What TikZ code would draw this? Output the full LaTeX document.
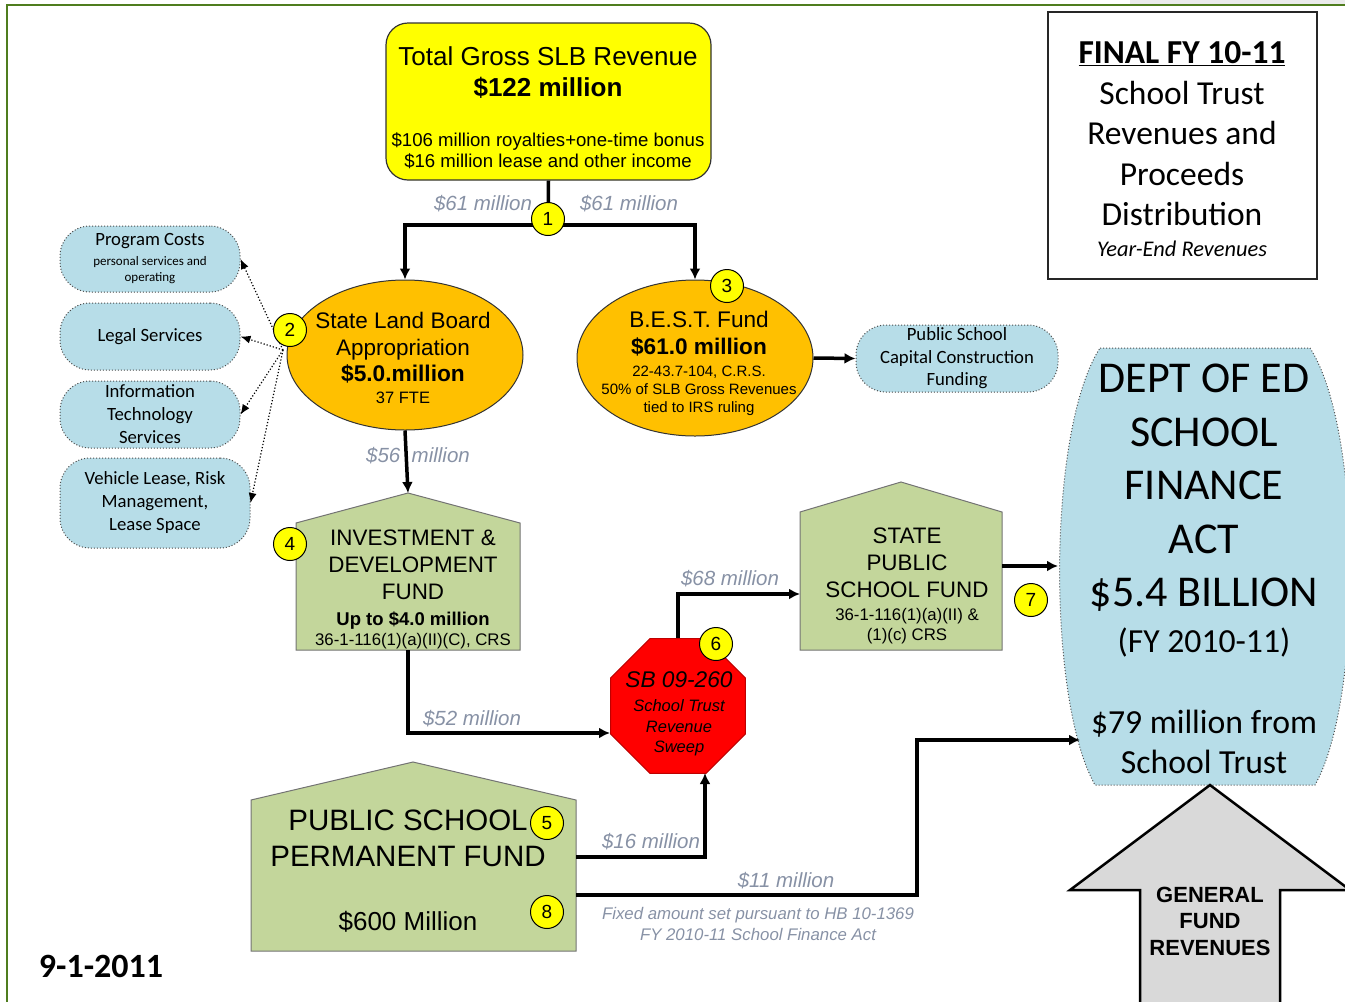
\documentclass[tikz,border=0pt]{standalone}
\usepackage{fontspec}
\setmainfont{Liberation Sans}
\newfontfamily\carlito{Carlito}
\usetikzlibrary{shapes.geometric,arrows.meta}
\definecolor{slbyellow}{RGB}{255,255,0}
\definecolor{slborange}{RGB}{255,192,0}
\definecolor{pillblue}{RGB}{183,221,232}
\definecolor{housegreen}{RGB}{195,214,155}
\definecolor{lblgray}{RGB}{135,145,165}
\definecolor{framegreen}{RGB}{79,125,30}
\definecolor{arrowgray}{RGB}{217,217,217}
\newcommand{\myfs}[2]{\fontsize{#1}{#2}\selectfont}
\begin{document}
\begin{tikzpicture}[x=1pt,y=-1pt,
  thickline/.style={line width=3.5pt},
  thickarrow/.style={line width=3.5pt,-{Latex[length=11pt,width=11pt]}},
  dotarrow/.style={dotted,line width=1.2pt,-{Latex[length=10pt,width=8pt]}},
  numcirc/.style={circle,draw=black,line width=1pt,fill=slbyellow,minimum size=33pt,inner sep=0pt,font=\myfs{19}{19}},
  lbl/.style={text=lblgray,font=\myfs{20.5}{22}\itshape,inner sep=0pt},
  pill/.style={draw=black!70,dotted,line width=1pt,fill=pillblue,rounded corners=30pt,inner sep=0pt,align=center},
  housebody/.style={fill=housegreen,draw=black!55,line width=1pt},
  boxtext/.style={inner sep=0pt,align=center}]
\useasboundingbox (0,0) rectangle (1345,1002);
% frame
\fill[black!8] (1130,0) rectangle (1345,4);
\draw[framegreen,line width=2pt] (7,1002) -- (7,5) -- (1345,5);

% title box
\node[draw=black!85,line width=1.2pt,minimum width=269pt,minimum height=267pt,inner sep=0pt] (title) at (1182.5,145.5) {};
\node[boxtext,font=\carlito\myfs{33.5}{40.5}] (titletxt) at (1182,149)
 {{\bfseries \underline{FINAL FY 10-11}}\\ School Trust\\ Revenues and\\ Proceeds\\ Distribution\\[-10pt] {\myfs{22.4}{26}\itshape Year-End Revenues}};

% top box
\node[draw=black!80,line width=1.2pt,fill=slbyellow,rounded corners=22pt,minimum width=325pt,minimum height=157pt,inner sep=0pt] (top) at (548.5,101.5) {};
\node[boxtext,font=\myfs{26}{31}] (toptxt) at (548,108)
 {Total Gross SLB Revenue\\ {\myfs{26}{29}\bfseries \$122 million}\\[19pt] {\myfs{18.6}{21}\$106 million royalties+one-time bonus}\\[-10pt] {\myfs{18.6}{21}\$16 million lease and other income}};

% ellipses
\node[ellipse,draw=black!80,line width=1pt,fill=slborange,minimum width=236pt,minimum height=150pt,inner sep=0pt] (slb) at (405,355) {};
\node[boxtext,font=\myfs{22.5}{27}] (slbtxt) at (403,358)
 {State Land Board\\ Appropriation\\[-1pt] {\myfs{22.7}{25}\bfseries \$5.0.million}\\[-5pt] {\myfs{16.5}{18}37 FTE}};
\node[ellipse,draw=black!80,line width=1pt,fill=slborange,minimum width=236pt,minimum height=156pt,inner sep=0pt] (best) at (695,358) {};
\node[boxtext,font=\myfs{22.6}{27}] (besttxt) at (699,363)
 {B.E.S.T. Fund\\ {\myfs{22.6}{25}\bfseries \$61.0 million}\\[-5pt] {\myfs{15}{18}22-43.7-104, C.R.S.}\\[-9pt] {\myfs{15}{18}50\% of SLB Gross Revenues}\\[-9pt] {\myfs{15}{18}tied to IRS ruling}};

% pills
\node[pill,font=\carlito\myfs{18.7}{22.5},minimum width=202pt,minimum height=67pt] (pscc) at (957,358.5)
 {Public School\\ Capital Construction\\ Funding};
\node[pill,font=\carlito\myfs{18.7}{20},minimum width=180pt,minimum height=66pt] (prog) at (150,259)
 {Program Costs\\ {\myfs{13}{16}personal services and}\\[-4pt] {\myfs{13}{16}operating}};
\node[pill,font=\carlito\myfs{18.7}{20},minimum width=180pt,minimum height=67pt] (legal) at (150,336.5)
 {Legal Services};
\node[pill,font=\carlito\myfs{18.7}{23},minimum width=180pt,minimum height=67pt] (itsv) at (150,414.5)
 {Information\\ Technology\\ Services};
\node[pill,font=\carlito\myfs{18.7}{23},minimum width=190pt,minimum height=90pt] (veh) at (155,503)
 {Vehicle Lease, Risk\\ Management,\\ Lease Space};

% houses
\draw[housebody] (296,650) -- (296,523) -- (408,493) -- (520,523) -- (520,650) -- cycle;
\node[inner sep=0pt,minimum width=224pt,minimum height=127pt] (inv) at (408,586.5) {};
\node[boxtext,font=\myfs{22.4}{27}] (invtxt) at (413,589)
 {INVESTMENT \&\\ DEVELOPMENT\\ FUND\\[-1pt] {\myfs{18.5}{21}\bfseries Up to \$4.0 million}\\[-7pt] {\myfs{16.8}{20}36-1-116(1)(a)(II)(C), CRS}};
\coordinate (invtop) at (408,493);

\draw[housebody] (800,650) -- (800,512) -- (901,482) -- (1002,512) -- (1002,650) -- cycle;
\node[inner sep=0pt,minimum width=202pt,minimum height=138pt] (spsf) at (901,581) {};
\node[boxtext,font=\myfs{22.4}{26.5}] (spsftxt) at (907,586)
 {STATE\\ PUBLIC\\[0.5pt] SCHOOL FUND\\[-3.5pt] {\myfs{16.8}{21}36-1-116(1)(a)(II) \&}\\[-6pt] {\myfs{16.8}{21}(1)(c) CRS}};

\draw[housebody] (251,951) -- (251,800) -- (413,762) -- (576,800) -- (576,951) -- cycle;
\node[inner sep=0pt,minimum width=325pt,minimum height=151pt] (pspf) at (413.5,875.5) {};
\node[boxtext,font=\myfs{29.5}{36}] (pspftxt) at (408,871)
 {PUBLIC SCHOOL\\ PERMANENT FUND\\[28pt] {\myfs{26}{30}\$600 Million}};

% octagon
\node[regular polygon,regular polygon sides=8,minimum size=146pt,inner sep=0pt,fill=red,draw=red!75!black,line width=1pt] (oct) at (678,706) {};
\node[boxtext,font=\myfs{22.7}{24}\itshape] (octtxt) at (679,714)
 {SB 09-260\\ {\myfs{16.5}{21}School Trust}\\[-3pt] {\myfs{16.5}{20}Revenue}\\[-4pt] {\myfs{16.5}{20}Sweep}};

% Dept of Ed
\path[fill=pillblue,draw=black!70,dotted,line width=1pt] (1100,348) -- (1310,348) .. controls (1363,430) and (1363,700) .. (1315,785) -- (1095,785) .. controls (1047,700) and (1047,430) .. (1100,348) -- cycle;
\node[boxtext,font=\carlito\myfs{44}{53.5}] (doe) at (1204,569)
 {DEPT OF ED\\ SCHOOL\\ FINANCE\\ ACT\\ \$5.4 BILLION\\[-7.5pt] {\myfs{33.7}{36}(FY 2010-11)}\\[27.5pt] {\myfs{33.7}{40}\$79 million from}\\[-13.5pt] {\myfs{33.7}{40}School Trust}};

% general fund arrow
\draw[fill=arrowgray,draw=black,line width=2.5pt,line join=miter] (1140,1012) -- (1140,890) -- (1070,890) -- (1210,785) -- (1350,890) -- (1280,890) -- (1280,1012);
\node[boxtext,font=\bfseries\myfs{22}{26.5}] (gfr) at (1210,921)
 {GENERAL\\ FUND\\ REVENUES};

% date
\node[inner sep=0pt,font=\carlito\bfseries\myfs{34}{36}] (date) at (101,966) {9-1-2011};

% labels
\node[lbl] (l61a) at (483,204) {\$61 million};
\node[lbl] (l61b) at (629,204) {\$61 million};
\node[lbl] (l56) at (418,456) {\$56\ \ million};
\node[lbl] (l52) at (472,719) {\$52 million};
\node[lbl] (l68) at (730,579) {\$68 million};
\node[lbl] (l16) at (651,842) {\$16 million};
\node[lbl] (l11) at (786,881) {\$11 million};
\node[text=lblgray,boxtext,font=\myfs{16.8}{21}\itshape] (note) at (758,924)
 {Fixed amount set pursuant to HB 10-1369\\ FY 2010-11 School Finance Act};

% coordinates
\coordinate (j1) at (548,225);
\coordinate (octL) at (610,733);
\coordinate (octB) at (705,773);
\coordinate (spsfin) at (800,594);
\coordinate (spsfout) at (1002,566);
\coordinate (doein1) at (1058,566);
\coordinate (doein2) at (1080,740);
\coordinate (p5out) at (576,857);
\coordinate (p8out) at (576,895);
\coordinate (k11) at (917,740);
\coordinate (dsrc) at (283,350);

% connectors
\draw[thickline] (top.south) -- (j1);
\draw[thickarrow] (j1) -| (slb.north);
\draw[thickarrow] (j1) -| (best.north);
\draw[thickarrow] (slb.south) -- (invtop);
\draw[thickarrow] (inv.south) |- (octL);
\draw[thickarrow] (oct.north) |- (spsfin);
\draw[thickarrow] (best.east) -- (pscc.west);
\draw[thickarrow] (spsfout) -- (doein1);
\draw[thickarrow] (p5out) -| (octB);
\draw[thickarrow] (p8out) -| (k11) -- (doein2);
\draw[dotarrow] (dsrc) -- (prog.east);
\draw[dotarrow] (dsrc) -- (legal.east);
\draw[dotarrow] (dsrc) -- (itsv.east);
\draw[dotarrow] (dsrc) -- (veh.east);

% number circles
\node[numcirc] (c1) at (548,219) {1};
\node[numcirc] (c2) at (290,330) {2};
\node[numcirc] (c3) at (727,286) {3};
\node[numcirc] (c4) at (290,544) {4};
\node[numcirc] (c5) at (547,823) {5};
\node[numcirc] (c6) at (716,644) {6};
\node[numcirc] (c7) at (1031,600) {7};
\node[numcirc] (c8) at (547,912) {8};
\end{tikzpicture}
\end{document}
